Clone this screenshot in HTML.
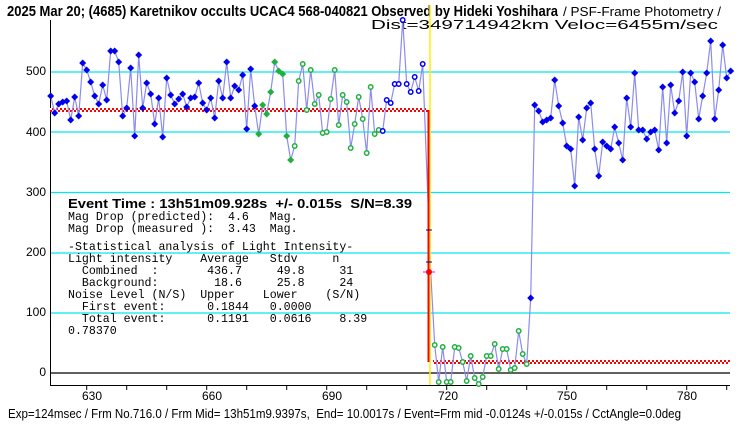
<!DOCTYPE html>
<html><head><meta charset="utf-8"><style>
html,body{margin:0;padding:0;background:#fff;width:740px;height:425px;overflow:hidden}
svg{display:block}
.pre text{white-space:pre}
</style></head><body>
<svg id="s" width="740" height="425" xmlns="http://www.w3.org/2000/svg" font-family="Liberation Sans, sans-serif">
<defs>
<pattern id="chk" width="4" height="4" patternUnits="userSpaceOnUse">
<rect width="4" height="4" fill="#fff"/><rect width="2" height="2" fill="#f00"/><rect x="2" y="2" width="2" height="2" fill="#f00"/>
</pattern>
</defs>
<text x="7" y="16" font-size="14.5" font-weight="bold" textLength="551" lengthAdjust="spacingAndGlyphs">2025 Mar 20; (4685) Karetnikov occults UCAC4 568-040821 Observed by Hideki Yoshihara</text>
<text x="563" y="16" font-size="13" textLength="158" lengthAdjust="spacingAndGlyphs">/ PSF-Frame Photometry /</text>
<text x="371" y="29" font-size="12.5" textLength="347" lengthAdjust="spacingAndGlyphs">Dist=349714942km Veloc=6455m/sec</text>
<g stroke="#00e8f0" stroke-width="1.3">
<line x1="50" y1="72" x2="730" y2="72"/><line x1="50" y1="132" x2="730" y2="132"/>
<line x1="50" y1="192.5" x2="730" y2="192.5"/><line x1="50" y1="253" x2="730" y2="253"/>
<line x1="50" y1="313" x2="730" y2="313"/>
</g>
<line x1="50" y1="373" x2="730" y2="373" stroke="#000" stroke-width="1.3"/>
<line x1="50.5" y1="20" x2="50.5" y2="386" stroke="#000"/>
<line x1="50" y1="385.5" x2="730" y2="385.5" stroke="#000"/>
<g id="ticks" stroke="#000"></g>
<g font-size="12" text-anchor="end">
<text x="46" y="75">500</text><text x="46" y="136">400</text><text x="46" y="196">300</text>
<text x="46" y="256">200</text><text x="46" y="316">100</text><text x="46" y="376">0</text>
</g>
<g font-size="12" text-anchor="middle">
<text x="92" y="400">630</text><text x="212" y="400">660</text><text x="332" y="400">690</text>
<text x="448" y="400">720</text><text x="567" y="400">750</text><text x="687" y="400">780</text>
</g>
<rect x="50" y="108" width="378" height="4" fill="url(#chk)"/>
<rect x="433" y="360" width="297" height="4" fill="url(#chk)"/>
<g id="data"></g>
<line x1="430" y1="5" x2="430" y2="385" stroke="#ffee00" stroke-width="1.5"/>
<line x1="428.5" y1="110" x2="428.5" y2="362" stroke="#f00" stroke-width="2"/>
<line x1="423" y1="272" x2="435" y2="272" stroke="#f0f"/>
<circle cx="429" cy="272" r="3" fill="#f00"/>
<line x1="426" y1="230" x2="432" y2="230" stroke="#00008b"/><line x1="426" y1="262" x2="432" y2="262" stroke="#00008b"/>
<text x="68" y="208" font-weight="bold" font-size="12.5" textLength="344" lengthAdjust="spacingAndGlyphs" style="white-space:pre">Event Time : 13h51m09.928s  +/- 0.015s  S/N=8.39</text>
<g class="pre" font-family="Liberation Mono, monospace" font-size="11.6">
<text x="68" y="220">Mag Drop (predicted):  4.6   Mag.</text>
<text x="68" y="232">Mag Drop (measured ):  3.43  Mag.</text>
<text x="68" y="250">-Statistical analysis of Light Intensity-</text>
<text x="68" y="262">Light intensity    Average   Stdv     n</text>
<text x="68" y="274">  Combined  :       436.7     49.8     31</text>
<text x="68" y="286">  Background:        18.6     25.8     24</text>
<text x="68" y="298">Noise Level (N/S)  Upper    Lower    (S/N)</text>
<text x="68" y="310">  First event:      0.1844   0.0000</text>
<text x="68" y="322">  Total event:      0.1191   0.0616    8.39</text>
<text x="68" y="334">0.78370</text>
</g>
<text x="8" y="418" font-size="12.5" textLength="673" lengthAdjust="spacingAndGlyphs" style="white-space:pre">Exp=124msec / Frm No.716.0 / Frm Mid= 13h51m9.9397s,  End= 10.0017s / Event=Frm mid -0.0124s +/-0.015s / CctAngle=0.0deg</text>
</svg>
<script>
var NS="http://www.w3.org/2000/svg";
function el(t,a,p){var e=document.createElementNS(NS,t);for(var k in a)e.setAttribute(k,a[k]);p.appendChild(e);return e;}
var tk=document.getElementById('ticks');
for(var x=86.7;x<731;x+=40){el('line',{x1:x,y1:385,x2:x,y2:390},tk);}
var pre=[96,113,104,102,101,120,97,116,63,70,82,96,104,85,100,51,51,62,116,108,68,136,55,108,83,94,124,98,137,78,95,104,99,94,107,98,97,83,103,110,98,118,81,98,62,98,86,90,75,
129,69,106,134,105,114,92,62,71,74,136,160,146,81,64,110,70,104,95,133,132,99,70,125,95,102,148,124,97,119,153,87,134,130,131,100,103,84,84,20,84,92,77,91,64];
var post=[272,345,382,347,382,382,347,348,362,381,356,378,384,377,356,356,344,369,349,349,370,368,331,354,364,
298,105,111,122,120,118,80,106,123,146,149,186,117,140,108,103,149,176,142,146,149,127,143,160,98,127,73,130,130,139,132,130,150,87,143,85,113,101,72,136,73,82,119,96,73,41,119,90,45,78,71];
var pts=[],f=621;
pre.forEach(function(y){pts.push([446.7+(f-720)*4,y,f]);f++;});
f=716;post.forEach(function(y){pts.push([446.7+(f-720)*4,y,f]);f++;});
var d=document.getElementById('data');
el('polyline',{points:pts.map(function(p){return p[0]+','+p[1]}).join(' '),fill:'none',stroke:'#8c8cf0','stroke-width':1.2},d);
pts.forEach(function(p){
 var x=p[0],y=p[1],fr=p[2];
 if(fr==716)return;
 if(fr>=717&&fr<=740){el('circle',{cx:x,cy:y,r:2.2,fill:'#fff',stroke:'#20b040','stroke-width':1.5},d);}
 else if(fr>=673&&fr<=681){el('polygon',{points:(x-3.5)+','+y+' '+x+','+(y-3.5)+' '+(x+3.5)+','+y+' '+x+','+(y+3.5),fill:'#20b040'},d);}
 else if(fr>=682&&fr<=703){el('circle',{cx:x,cy:y,r:2.2,fill:'#fff',stroke:'#20b040','stroke-width':1.5},d);}
 else if(fr>=704&&fr<=715){el('circle',{cx:x,cy:y,r:2.2,fill:'#fff',stroke:'#0000ee','stroke-width':1.5},d);}
 else {el('polygon',{points:(x-3.5)+','+y+' '+x+','+(y-3.5)+' '+(x+3.5)+','+y+' '+x+','+(y+3.5),fill:'#0000ee'},d);}
});
</script>
</body></html>
